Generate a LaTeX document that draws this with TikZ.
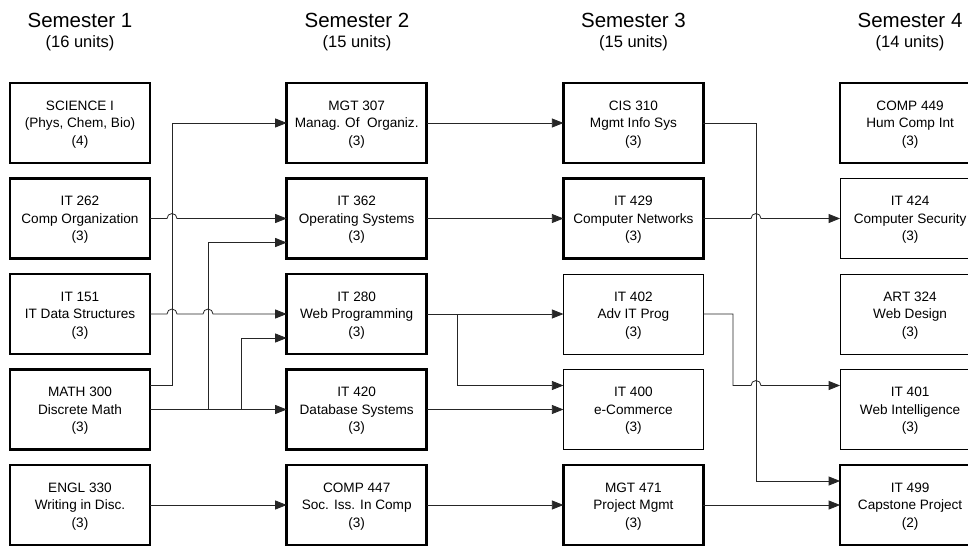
\documentclass[tikz,border=0pt]{standalone}
\usepackage{fontspec}
\setmainfont{Liberation Sans}
\usepackage{tikz}
\usetikzlibrary{arrows.meta,positioning,calc}

\begin{document}
\begin{tikzpicture}[
    x=1pt,y=-1pt,
    node distance=15.5pt and 136.7pt,
    course/.style={draw,align=center,minimum width=140pt,minimum height=80pt,inner sep=0pt,
      outer sep=0pt,text depth=0pt,font=\fontsize{13.6}{17.5}\selectfont},
    core/.style={course,line width=2.6pt},
    elective/.style={course,line width=0.8pt},
    head/.style={font=\fontsize{20.5}{22}\selectfont},
    units/.style={font=\fontsize{16.5}{18}\selectfont},
    arrow/.style={-{Triangle[length=11.5pt,width=9pt]},line width=0.8pt,black!85},
    hop/.style={radius=5pt,start angle=180,end angle=0}
  ]
    \useasboundingbox (0,0) rectangle (968,546);
    % semester headings
    \node[head] (sem1) at (80,20) {Semester 1};
    \node[units] (un1) at (80,43) {(16 units)};
    \node[head] (sem2) at (357,20) {Semester 2};
    \node[units] (un2) at (357,43) {(15 units)};
    \node[head] (sem3) at (633.5,20) {Semester 3};
    \node[units] (un3) at (633.5,43) {(15 units)};
    \node[head] (sem4) at (910,20) {Semester 4};
    \node[units] (un4) at (910,43) {(14 units)};
    % semester 1
    \node[core] (sci) at (80,123) {SCIENCE I\\(Phys, Chem, Bio)\\(4)};
    \node[core,below=of sci] (it262) {IT 262\\Comp Organization\\(3)};
    \node[core,below=of it262] (it151) {IT 151\\IT Data Structures\\(3)};
    \node[core,below=of it151] (math) {MATH 300\\Discrete Math\\(3)};
    \node[core,below=of math] (engl) {ENGL 330\\Writing in Disc.\\(3)};
    % semester 2
    \node[core,right=of sci] (mgt307) {MGT 307\\Manag. Of\ \ Organiz.\\(3)};
    \node[core,below=of mgt307] (it362) {IT 362\\Operating Systems\\(3)};
    \node[core,below=of it362] (it280) {IT 280\\Web Programming\\(3)};
    \node[core,below=of it280] (it420) {IT 420\\Database Systems\\(3)};
    \node[core,below=of it420] (comp447) {COMP 447\\Soc. Iss. In Comp\\(3)};
    % semester 3
    \node[core,right=of mgt307] (cis310) {CIS 310\\Mgmt Info Sys\\(3)};
    \node[core,below=of cis310] (it429) {IT 429\\Computer Networks\\(3)};
    \node[elective,below=of it429] (it402) {IT 402\\Adv IT Prog\\(3)};
    \node[elective,below=of it402] (it400) {IT 400\\e-Commerce\\(3)};
    \node[core,below=of it400] (mgt471) {MGT 471\\Project Mgmt\\(3)};
    % semester 4
    \node[core,right=of cis310] (comp449) {COMP 449\\Hum Comp Int\\(3)};
    \node[elective,below=of comp449] (it424) {IT 424\\Computer Security\\(3)};
    \node[elective,below=of it424] (art324) {ART 324\\Web Design\\(3)};
    \node[elective,below=of art324] (it401) {IT 401\\Web Intelligence\\(3)};
    \node[core,below=of it401] (it499) {IT 499\\Capstone Project\\(2)};
    % vertical runs
    \coordinate (busA) at (172,0);
    \coordinate (busB) at (208,0);
    \coordinate (busC) at (241,0);
    \coordinate (busD) at (457,0);
    \coordinate (busE) at (733,0);
    \coordinate (busF) at (756,0);
    % prerequisites into semester 2
    \draw[arrow] ($(math.east)+(0,-24)$) -| (busA |- mgt307.west) -- (mgt307.west);
    \draw[arrow] (it262.east) -- ($(busA |- it262.east)+(-5,0)$) arc[hop] -- (it362.west);
    \draw[arrow] (it151.east) -- ($(busA |- it151.east)+(-5,0)$) arc[hop]
      -- ($(busB |- it151.east)+(-5,0)$) arc[hop] -- (it280.west);
    \draw[arrow] (math.east) -- (it420.west);
    \draw[arrow] (busB |- math.east) |- ($(it362.west)+(0,24)$);
    \draw[arrow] (busC |- math.east) |- ($(it280.west)+(0,24)$);
    \draw[arrow] (engl.east) -- (comp447.west);
    % prerequisites into semester 3
    \draw[arrow] (mgt307.east) -- (cis310.west);
    \draw[arrow] (it362.east) -- (it429.west);
    \draw[arrow] (it280.east) -- (it402.west);
    \draw[arrow] (busD |- it280.east) |- ($(it400.west)+(0,-24)$);
    \draw[arrow] (it420.east) -- (it400.west);
    \draw[arrow] (comp447.east) -- (mgt471.west);
    % prerequisites into semester 4
    \draw[arrow] (cis310.east) -| ($(busF |- it499.west)+(0,-24)$) -- ($(it499.west)+(0,-24)$);
    \draw[arrow] (it429.east) -- ($(busF |- it429.east)+(-5,0)$) arc[hop] -- (it424.west);
    \draw[arrow] (it402.east) -| ($(busE |- it401.west)+(0,-24)$)
      -- ($(busF |- it401.west)+(-5,-24)$) arc[hop] -- ($(it401.west)+(0,-24)$);
    \draw[arrow] (mgt471.east) -- (it499.west);
  \end{tikzpicture}
\end{document}
